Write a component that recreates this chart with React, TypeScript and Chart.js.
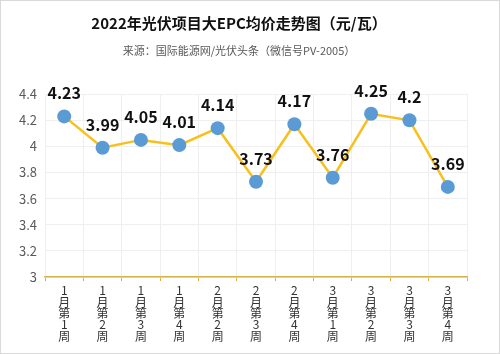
import React, { useEffect, useRef } from "react";
import { Chart, registerables } from "chart.js";

Chart.register(...registerables);

const TITLE = "2022年光伏项目大EPC均价走势图（元/瓦）";
const SUBTITLE = "来源：国际能源网/光伏头条（微信号PV-2005）";
const categories = [
  "1月第1周", "1月第2周", "1月第3周", "1月第4周",
  "2月第2周", "2月第3周", "2月第4周",
  "3月第1周", "3月第2周", "3月第3周", "3月第4周",
];
const prices = [4.23, 3.99, 4.05, 4.01, 4.14, 3.73, 4.17, 3.76, 4.25, 4.2, 3.69];
const yMin = 3;
const yMax = 4.4;
const yStep = 0.2;

const FONT = "'Noto Sans CJK SC', 'Noto Sans', sans-serif";

const valueLabels = {
  id: "valueLabels",
  afterDatasetsDraw(chart: any) {
    const ctx = chart.ctx;
    const meta = chart.getDatasetMeta(0);
    ctx.save();
    ctx.font = `bold 16px ${FONT}`;
    ctx.fillStyle = "#111111";
    ctx.textAlign = "center";
    ctx.textBaseline = "middle";
    meta.data.forEach((pt: any, i: number) => {
      ctx.fillText(String(prices[i]), pt.x, pt.y - 23);
    });
    ctx.restore();
  },
};

export default function App() {
  const ref = useRef<HTMLCanvasElement | null>(null);
  useEffect(() => {
    if (!ref.current) return;
    const chart = new Chart(ref.current, {
      type: "line",
      data: {
        labels: categories.map((c) => Array.from(c)),
        datasets: [
          {
            data: prices,
            borderColor: "#f7c01c",
            borderWidth: 2.5,
            pointBackgroundColor: "#5b9bd5",
            pointBorderColor: "#5b9bd5",
            pointRadius: 7,
            pointBorderWidth: 0,
            tension: 0,
          },
        ],
      },
      options: {
        responsive: false,
        animation: false,
        layout: { padding: { left: 10, right: 32, bottom: 7 } },
        plugins: {
          legend: { display: false },
          tooltip: { enabled: false },
          title: {
            display: true,
            text: TITLE,
            color: "#111111",
            font: { family: FONT, size: 15, weight: "bold" },
            padding: { top: 13, bottom: 12 },
          },
          subtitle: {
            display: true,
            text: SUBTITLE,
            color: "#595959",
            font: { family: FONT, size: 11 },
            padding: { top: 0, bottom: 37 },
          },
        },
        scales: {
          x: {
            offset: true,
            grid: {
              offset: true,
              color: "#efefef",
              tickColor: "#d6b24e",
              tickLength: 4,
            },
            border: { color: "#d6b24e", width: 1.5 },
            ticks: {
              color: "#333333",
              maxRotation: 0,
              minRotation: 0,
              autoSkip: false,
              padding: 4,
              font: { family: FONT, size: 12, lineHeight: 0.95 },
            },
          },
          y: {
            min: yMin,
            max: yMax,
            grid: { color: "#efefef", drawTicks: false },
            border: { display: false },
            ticks: {
              stepSize: yStep,
              color: "#595959",
              padding: 8,
              font: { family: FONT, size: 13 },
              callback: (v: any) => String(Math.round(Number(v) * 10) / 10),
            },
          },
        },
      },
      plugins: [valueLabels],
    });
    return () => chart.destroy();
  }, []);
  return (
    <div
      style={{
        position: "fixed",
        left: 0,
        top: 0,
        width: 500,
        height: 354,
        boxSizing: "border-box",
        border: "1px solid #d9d9d9",
        background: "#ffffff",
      }}
    >
      <canvas ref={ref} width={498} height={352} style={{ display: "block" }} />
    </div>
  );
}
